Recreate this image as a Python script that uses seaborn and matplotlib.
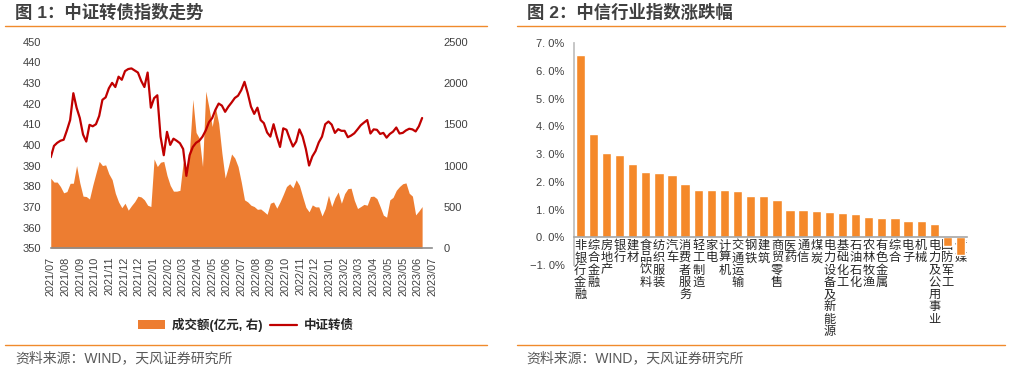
import numpy as np
import pandas as pd
import matplotlib
matplotlib.use("Agg")
import matplotlib.pyplot as plt
from matplotlib.lines import Line2D
from matplotlib.patches import Patch
from matplotlib.ticker import FuncFormatter
import seaborn as sns

sns.set_theme(style="white")
plt.rcParams['font.family'] = ['Liberation Sans', 'Noto Sans CJK SC']
plt.rcParams['axes.unicode_minus'] = False

# ---- data: chart 1 (weekly readings, 2021/07 - 2023/07) ----
date_labels = ['2021/07', '2021/08', '2021/09', '2021/10', '2021/11', '2021/12', '2021/12',
               '2022/01', '2022/02', '2022/03', '2022/04', '2022/05', '2022/06', '2022/07',
               '2022/07', '2022/08', '2022/09', '2022/10', '2022/11', '2022/12', '2023/01',
               '2023/02', '2023/03', '2023/04', '2023/05', '2023/05', '2023/06', '2023/07']
date_labels = date_labels[:7] + date_labels[7:14] + date_labels[15:]  # 26 ticks

cb_index = [394, 399.5, 401, 402, 402.5, 407, 412, 425, 418, 413, 405, 401.6, 409.7, 409, 410, 414,
            421.8, 423, 427.4, 430, 428, 433, 431.5, 435.7, 436.7, 437, 436, 435, 431, 428, 435, 418,
            422.6, 424, 404, 395, 406.3, 400, 403, 402, 400.8, 398, 385, 395, 399, 401, 402, 404,
            407, 411, 413, 417, 420, 419, 416, 418.5, 420.5, 422.7, 423.8, 426.5, 430.5, 425, 418.5,
            415, 418, 412, 410.5, 406, 404, 410, 404, 399, 408, 407.3, 403, 399.2, 401.6, 407.5, 404,
            398, 390, 394.4, 397, 401.2, 404, 410, 411.3, 409.8, 405.8, 407.6, 406.8, 406.8, 403.7,
            404.5, 405.6, 407.5, 409.5, 410.8, 412, 405.5, 407.5, 407.3, 405.3, 405.8, 403.5, 405.3,
            406.4, 408.4, 405.5, 405.8, 407, 407.8, 407.5, 406.5, 409, 413]

turnover = [847, 800, 800, 746, 670, 685, 785, 786, 1000, 790, 630, 625, 595, 760, 907, 1050, 1000,
            1008, 900, 830, 665, 560, 490, 544, 460, 515, 564, 630, 620, 585, 520, 504, 1080, 988,
            1040, 1050, 880, 760, 690, 690, 700, 1040, 867, 1200, 1800, 1400, 1330, 988, 1900, 1700,
            1472, 1700, 1512, 1150, 850, 988, 1140, 1090, 988, 800, 585, 560, 520, 504, 470, 475, 444,
            410, 544, 560, 484, 560, 650, 746, 780, 730, 827, 760, 625, 495, 440, 524, 500, 500, 390,
            480, 640, 504, 610, 680, 544, 660, 720, 726, 580, 480, 504, 530, 520, 625, 630, 600, 504,
            400, 375, 585, 615, 700, 746, 780, 790, 665, 630, 403, 450, 504]

# ---- data: chart 2 ----
industries = ['非银行金融', '综合金融', '房地产', '银行', '建材', '食品饮料', '纺织服装', '汽车',
              '消费者服务', '轻工制造', '家电', '计算机', '交通运输', '钢铁', '建筑', '商贸零售',
              '医药', '通信', '煤炭', '电力设备及新能源', '基础化工', '石油石化', '农林牧渔',
              '有色金属', '综合', '电子', '机械', '电力及公用事业', '国防军工', '传媒']
changes = [6.58, 3.71, 3.03, 2.98, 2.66, 2.37, 2.31, 2.26, 1.91, 1.72, 1.72, 1.70, 1.67, 1.50, 1.50,
           1.35, 1.00, 0.97, 0.95, 0.90, 0.88, 0.85, 0.72, 0.70, 0.70, 0.58, 0.58, 0.48, -0.30, -0.65]

ORANGE = '#ED7D31'
BAR = '#F5892A'
RED = '#C00000'
RULE = '#F08A2C'
TXT = '#404040'

fig = plt.figure(figsize=(10.15, 3.71), dpi=100)

# ---------------- chart 1 ----------------
ax1 = fig.add_axes([0.050, 0.331, 0.376, 0.557])
ax1r = ax1.twinx()
span = 25.3
xs = np.linspace(0, span, len(cb_index))
df1 = pd.DataFrame({'x': xs, 'index': cb_index, 'turnover': turnover})

ax1r.fill_between(df1['x'], 0, df1['turnover'], color=ORANGE, linewidth=0)
sns.lineplot(data=df1, x='x', y='index', ax=ax1, color=RED, linewidth=1.6, legend=False)
ax1.set_zorder(ax1r.get_zorder() + 1)
ax1.patch.set_visible(False)

ax1.set_xlim(0, span)
ax1.set_ylim(350, 450)
ax1r.set_ylim(0, 2500)
ax1.set_yticks(range(350, 451, 10))
ax1r.set_yticks(range(0, 2501, 500))
ax1.set_xticks(range(len(date_labels)))
ax1.set_xticklabels(date_labels, rotation=90, fontsize=7.8, color=TXT)
ax1.set_xlabel('')
ax1.set_ylabel('')
ax1.tick_params(axis='y', labelsize=8, colors=TXT, length=0, pad=7)
ax1.tick_params(axis='x', length=0, pad=6)
ax1r.tick_params(axis='y', labelsize=8, colors=TXT, length=0, pad=8)
for a in (ax1, ax1r):
    for s in ('left', 'right', 'top', 'bottom'):
        a.spines[s].set_visible(False)
    a.grid(False)
ax1.spines['bottom'].set_visible(True)
ax1.spines['bottom'].set_color('#8C8C8C')
ax1.spines['bottom'].set_linewidth(1.2)

handles = [Patch(facecolor=ORANGE, edgecolor='none'), Line2D([], [], color=RED, linewidth=1.6)]
fig.legend(handles, ['成交额(亿元, 右)', '中证转债'], loc='center', bbox_to_anchor=(0.242, 0.124),
           ncol=2, frameon=False, handlelength=2.2, handleheight=0.7, columnspacing=0.6,
           handletextpad=0.5, prop={'weight': 'bold', 'size': 9})

# ---------------- chart 2 ----------------
ax2 = fig.add_axes([0.5658, 0.2857, 0.387, 0.5976])
sns.barplot(x=industries, y=changes, ax=ax2, color=BAR, saturation=1, width=0.71)
# spine position first: moving it resets the tick objects
ax2.spines['bottom'].set_position(('data', 0))
ax2.set_xlim(-0.45, 29.5)
ax2.set_ylim(-1, 7)
ax2.set_yticks(np.arange(-1, 7.1, 1))
ax2.yaxis.set_major_formatter(FuncFormatter(lambda v, p: f'{v:.1f}%'.replace('.', '. ').replace('-', '−')))
ax2.set_xticks(range(len(industries)))
ax2.set_xticklabels(['\n'.join(s) for s in industries], fontsize=8.8, color='#262626',
                    linespacing=1.03, va='top')
ax2.set_xlabel('')
ax2.set_ylabel('')
for s in ('top', 'right'):
    ax2.spines[s].set_visible(False)
ax2.spines['left'].set_color('#BFBFBF')
ax2.spines['bottom'].set_color('#A6A6A6')
ax2.spines['bottom'].set_linewidth(1.2)
ax2.tick_params(axis='y', labelsize=8, colors=TXT, length=0, pad=7)
ax2.tick_params(axis='x', length=0, pad=2)
ax2.grid(False)

# ---------------- titles, rules, sources ----------------
for x0, x1, title in [(0.015, 0.480, '图 1：中证转债指数走势'), (0.519, 0.990, '图 2：中信行业指数涨跌幅')]:
    fig.text(x0, 0.966, title, fontsize=12.5, fontweight='bold', color=TXT, va='center', ha='left')
    fig.add_artist(Line2D([x0 - 0.010, x1], [0.930, 0.930], color=RULE, linewidth=1.0))
    fig.add_artist(Line2D([x0 - 0.010, x1], [0.070, 0.070], color=RULE, linewidth=1.0))
    fig.text(x0, 0.035, '资料来源：WIND，天风证券研究所', fontsize=10, color='#595959', va='center', ha='left')

fig.savefig('out.png', dpi=100)
